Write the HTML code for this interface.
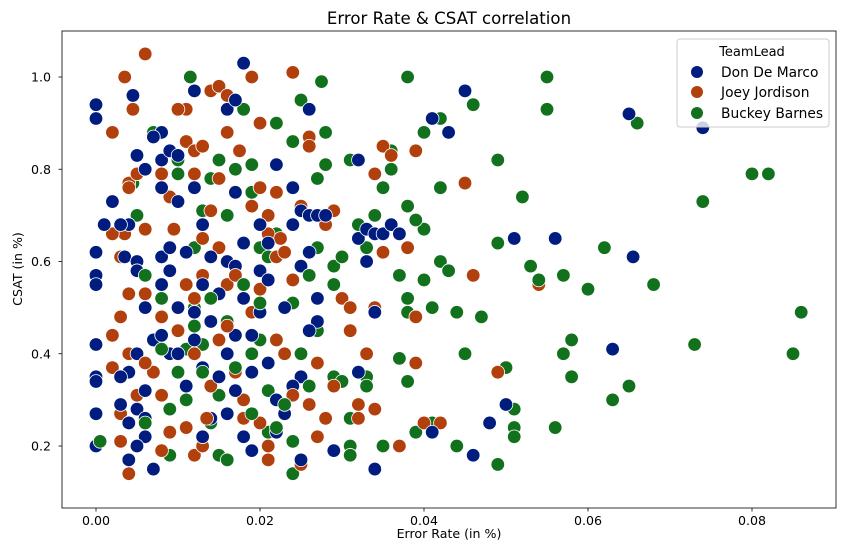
<!DOCTYPE html>
<html><head><meta charset="utf-8"><style>
body{margin:0;background:#fff}
svg{display:block;font-family:"DejaVu Sans","Liberation Sans",sans-serif}
</style></head><body>
<svg id="chart" width="846" height="547">
<text x="449" y="24" font-size="16.6" text-anchor="middle" fill="#000">Error Rate &amp; CSAT correlation</text>
<g id="marks"></g>
<g id="axes"></g>
<rect x="62" y="31" width="774" height="477" fill="none" stroke="#000" stroke-width="0.8"/>
<g>
<rect x="677" y="39" width="152" height="88" rx="3" fill="#fff" fill-opacity="0.8" stroke="#ccc" stroke-width="1"/>
<text x="752" y="56" font-size="13" text-anchor="middle">TeamLead</text>
<circle cx="697" cy="72" r="6" fill="#001c7f"/>
<text x="721" y="77" font-size="13.8">Don De Marco</text>
<circle cx="697" cy="92" r="6" fill="#b1400d"/>
<text x="721" y="97" font-size="13.8">Joey Jordison</text>
<circle cx="697" cy="113" r="6" fill="#12711c"/>
<text x="721" y="118" font-size="13.8">Buckey Barnes</text>
</g>
<text x="449" y="538" font-size="12.6" text-anchor="middle">Error Rate (in %)</text>
<text x="22" y="269" font-size="12.6" text-anchor="middle" transform="rotate(-90 22 269)">CSAT (in %)</text>
</svg>
<script>
const xTicks=[0,0.02,0.04,0.06,0.08];
const xTickLabels=["0.00","0.02","0.04","0.06","0.08"];
const yTicks=[0.2,0.4,0.6,0.8,1.0];
const yTickLabels=["0.2","0.4","0.6","0.8","1.0"];
const seriesNames=["Don De Marco","Joey Jordison","Buckey Barnes"];
const seriesColors=["#001c7f","#b1400d","#12711c"];
const donPoints=[[0,0.94],[0,0.91],[0,0.62],[0,0.57],[0,0.55],[0,0.42],[0,0.35],[0,0.34],[0,0.27],[0,0.20],[0.0045,0.96],[0.005,0.83],[0.006,0.80],[0.004,0.68],[0.003,0.68],[0.0035,0.61],[0.005,0.60],[0.005,0.58],[0.006,0.50],[0.007,0.43],[0.005,0.40],[0.004,0.36],[0.003,0.35],[0.003,0.29],[0.005,0.28],[0.004,0.25],[0.006,0.22],[0.005,0.20],[0.004,0.17],[0.007,0.15],[0.006,0.32],[0.006,0.26],[0.008,0.88],[0.008,0.82],[0.009,0.84],[0.010,0.83],[0.007,0.87],[0.008,0.76],[0.008,0.61],[0.009,0.58],[0.008,0.55],[0.008,0.44],[0.009,0.40],[0.010,0.50],[0.011,0.62],[0.010,0.73],[0.012,0.97],[0.012,0.76],[0.013,0.68],[0.013,0.55],[0.012,0.43],[0.013,0.37],[0.011,0.30],[0.014,0.26],[0.013,0.22],[0.015,0.53],[0.016,0.60],[0.016,0.93],[0.017,0.95],[0.018,1.03],[0.017,0.75],[0.018,0.64],[0.017,0.59],[0.018,0.52],[0.017,0.44],[0.016,0.40],[0.017,0.32],[0.016,0.27],[0.018,0.22],[0.019,0.19],[0.020,0.68],[0.020,0.58],[0.021,0.56],[0.019,0.44],[0.021,0.38],[0.022,0.30],[0.023,0.27],[0.022,0.23],[0.024,0.76],[0.024,0.68],[0.025,0.71],[0.026,0.93],[0.026,0.70],[0.027,0.70],[0.028,0.70],[0.025,0.59],[0.026,0.62],[0.027,0.47],[0.026,0.45],[0.027,0.52],[0.025,0.35],[0.024,0.33],[0.025,0.17],[0.029,0.19],[0.032,0.82],[0.032,0.65],[0.033,0.67],[0.034,0.66],[0.035,0.66],[0.036,0.68],[0.037,0.66],[0.033,0.60],[0.034,0.49],[0.032,0.36],[0.034,0.15],[0.041,0.91],[0.043,0.88],[0.045,0.97],[0.041,0.23],[0.046,0.18],[0.048,0.25],[0.050,0.29],[0.051,0.65],[0.056,0.65],[0.063,0.41],[0.065,0.92],[0.0655,0.61],[0.074,0.89],[0.001,0.68],[0.002,0.73],[0.014,0.47],[0.015,0.35],[0.020,0.49],[0.021,0.64],[0.023,0.50],[0.019,0.36],[0.010,0.40],[0.011,0.33],[0.014,0.61],[0.009,0.63],[0.012,0.49],[0.022,0.81]];
const joeyPoints=[[0.006,1.05],[0.0035,1.00],[0.0045,0.93],[0.002,0.88],[0.004,0.77],[0.004,0.76],[0.005,0.79],[0.0035,0.66],[0.002,0.66],[0.006,0.67],[0.003,0.61],[0.004,0.53],[0.006,0.53],[0.003,0.48],[0.002,0.44],[0.004,0.40],[0.002,0.37],[0.005,0.31],[0.003,0.21],[0.004,0.14],[0.003,0.27],[0.008,0.79],[0.009,0.74],[0.008,0.48],[0.008,0.31],[0.008,0.19],[0.010,0.36],[0.010,0.45],[0.011,0.93],[0.011,0.86],[0.012,0.79],[0.012,0.84],[0.013,0.85],[0.014,0.97],[0.015,0.98],[0.016,0.96],[0.016,0.88],[0.015,0.78],[0.014,0.71],[0.013,0.65],[0.013,0.57],[0.012,0.52],[0.011,0.24],[0.012,0.18],[0.013,0.20],[0.014,0.33],[0.015,0.43],[0.016,0.55],[0.017,0.36],[0.018,0.30],[0.019,1.00],[0.020,0.90],[0.020,0.76],[0.022,0.75],[0.021,0.70],[0.021,0.66],[0.022,0.61],[0.020,0.54],[0.019,0.49],[0.021,0.20],[0.021,0.17],[0.020,0.25],[0.023,0.40],[0.024,1.01],[0.024,0.56],[0.025,0.72],[0.026,0.87],[0.026,0.85],[0.028,0.68],[0.027,0.38],[0.027,0.22],[0.026,0.29],[0.025,0.16],[0.028,0.26],[0.029,0.71],[0.030,0.52],[0.031,0.50],[0.031,0.45],[0.032,0.29],[0.032,0.26],[0.034,0.50],[0.034,0.28],[0.035,0.85],[0.035,0.62],[0.034,0.79],[0.036,0.83],[0.037,0.20],[0.038,0.63],[0.039,0.48],[0.039,0.38],[0.039,0.84],[0.040,0.25],[0.042,0.25],[0.045,0.77],[0.046,0.57],[0.049,0.36],[0.054,0.55],[0.0095,0.67],[0.010,0.93],[0.017,0.57],[0.018,0.26],[0.007,0.36],[0.009,0.23],[0.012,0.40],[0.023,0.62],[0.0175,0.84],[0.019,0.72],[0.015,0.63],[0.016,0.46],[0.024,0.31],[0.029,0.33],[0.022,0.43],[0.011,0.55],[0.006,0.38],[0.033,0.40],[0.0135,0.26],[0.0225,0.65]];
const buckeyPoints=[[0.0115,1.00],[0.005,0.70],[0.0045,0.77],[0.007,0.88],[0.008,0.52],[0.010,0.82],[0.010,0.79],[0.009,0.28],[0.009,0.18],[0.011,0.41],[0.012,0.50],[0.013,0.42],[0.012,0.63],[0.013,0.71],[0.014,0.78],[0.015,0.82],[0.016,0.47],[0.015,0.31],[0.014,0.25],[0.015,0.18],[0.016,0.17],[0.017,0.80],[0.018,0.93],[0.019,0.81],[0.019,0.75],[0.020,0.63],[0.021,0.61],[0.020,0.43],[0.019,0.40],[0.021,0.32],[0.021,0.23],[0.022,0.90],[0.022,0.66],[0.023,0.62],[0.024,0.51],[0.024,0.21],[0.024,0.14],[0.025,0.95],[0.024,0.86],[0.026,0.85],[0.027,0.63],[0.027,0.45],[0.027,0.78],[0.0275,0.99],[0.028,0.88],[0.028,0.81],[0.029,0.59],[0.029,0.55],[0.029,0.35],[0.030,0.61],[0.030,0.34],[0.031,0.26],[0.031,0.20],[0.031,0.18],[0.031,0.82],[0.032,0.68],[0.033,0.63],[0.033,0.35],[0.033,0.33],[0.034,0.70],[0.035,0.76],[0.035,0.20],[0.036,0.84],[0.036,0.80],[0.037,0.57],[0.037,0.39],[0.038,1.00],[0.038,0.72],[0.038,0.52],[0.038,0.34],[0.038,0.49],[0.039,0.23],[0.040,0.56],[0.040,0.88],[0.040,0.67],[0.039,0.69],[0.041,0.25],[0.041,0.50],[0.042,0.91],[0.042,0.76],[0.042,0.60],[0.043,0.58],[0.044,0.20],[0.044,0.49],[0.045,0.77],[0.045,0.40],[0.046,0.94],[0.047,0.48],[0.049,0.16],[0.049,0.64],[0.049,0.82],[0.050,0.37],[0.051,0.28],[0.051,0.24],[0.051,0.22],[0.052,0.74],[0.053,0.59],[0.054,0.56],[0.055,0.93],[0.055,1.00],[0.056,0.24],[0.057,0.57],[0.057,0.40],[0.058,0.35],[0.058,0.43],[0.060,0.54],[0.062,0.63],[0.063,0.30],[0.065,0.33],[0.066,0.90],[0.068,0.55],[0.073,0.42],[0.074,0.73],[0.080,0.79],[0.082,0.79],[0.085,0.40],[0.086,0.49],[0.006,0.25],[0.006,0.57],[0.008,0.41],[0.010,0.36],[0.011,0.30],[0.012,0.46],[0.013,0.36],[0.014,0.52],[0.016,0.70],[0.017,0.37],[0.018,0.55],[0.019,0.27],[0.020,0.51],[0.022,0.24],[0.023,0.29],[0.025,0.40],[0.026,0.33],[0.026,0.57],[0.0005,0.21]];

const NS="http://www.w3.org/2000/svg";
function xs(v){return 96+v*8200;}
function ys(v){return 446-(v-0.2)*461.25;}
const axes=document.getElementById('axes');
function mk(tag,attrs,parent){const e=document.createElementNS(NS,tag);for(const k in attrs)e.setAttribute(k,attrs[k]);parent.appendChild(e);return e;}
xTicks.forEach((t,i)=>{
  const l=mk('line',{x1:xs(t),x2:xs(t),y1:508,y2:511.5,stroke:'#000','stroke-width':0.8},axes);
  
  
  const tx=mk('text',{x:xs(t),y:525,'font-size':12.6,'text-anchor':'middle'},axes);
  tx.textContent=xTickLabels[i];
  
  
});
yTicks.forEach((t,i)=>{
  const l=mk('line',{x1:58.5,x2:62,y1:ys(t),y2:ys(t),stroke:'#000','stroke-width':0.8},axes);
  
  
  const tx=mk('text',{x:51,y:ys(t)+4.5,'font-size':12.6,'text-anchor':'end'},axes);
  tx.textContent=yTickLabels[i];
  
  
});
const marks=document.getElementById('marks');
const all=[donPoints,joeyPoints,buckeyPoints];
const maxLen=Math.max(...all.map(a=>a.length));
for(let i=0;i<maxLen;i++){
  for(let s=0;s<3;s++){
    const p=all[s][i]; if(!p) continue;
    const c=mk('circle',{cx:xs(p[0]),cy:ys(p[1]),r:6.8,fill:seriesColors[s],stroke:'#fff','stroke-width':0.8},marks);
    
    
  }
}
</script>
</body></html>
